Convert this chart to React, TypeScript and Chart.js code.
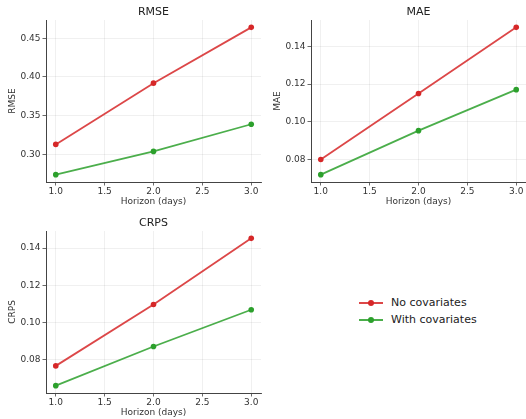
import React, { useEffect, useRef } from "react";
import { Chart, registerables } from "chart.js";

Chart.register(...registerables);

const horizons = [1, 2, 3];
const xTicks = [1.0, 1.5, 2.0, 2.5, 3.0];

const rmseNoCov = [0.313, 0.392, 0.464];
const rmseWithCov = [0.274, 0.304, 0.339];
const rmseTicks = [0.3, 0.35, 0.4, 0.45];

const maeNoCov = [0.08, 0.115, 0.15];
const maeWithCov = [0.072, 0.0953, 0.117];
const maeTicks = [0.08, 0.1, 0.12, 0.14];

const crpsNoCov = [0.0768, 0.1097, 0.1452];
const crpsWithCov = [0.0662, 0.0872, 0.1069];
const crpsTicks = [0.08, 0.1, 0.12, 0.14];

const seriesNames = ["No covariates", "With covariates"];
const lineColors = ["rgba(214,39,40,0.85)", "rgba(44,160,44,0.85)"];
const markerColors = ["#d62728", "#2ca02c"];

const FONT = "'DejaVu Sans', sans-serif";
const CANVAS_W = 265;
const CANVAS_H = 210;
const AREA_BOTTOM = 182;

function makeChart(
  canvas: HTMLCanvasElement,
  title: string,
  noCov: number[],
  withCov: number[],
  yTicks: number[]
) {
  const all = [...noCov, ...withCov];
  const lo = Math.min(...all);
  const hi = Math.max(...all);
  const m = (hi - lo) * 0.05;
  const xm = (horizons[horizons.length - 1] - horizons[0]) * 0.05;
  const series = [noCov, withCov];
  return new Chart(canvas, {
    type: "line",
    data: {
      datasets: series.map((vals, i) => ({
        label: seriesNames[i],
        data: horizons.map((h, j) => ({ x: h, y: vals[j] })),
        borderColor: lineColors[i],
        borderWidth: 1.8,
        pointRadius: 2.8,
        pointBackgroundColor: markerColors[i],
        pointBorderColor: markerColors[i],
        pointBorderWidth: 0,
        tension: 0,
      })),
    },
    options: {
      animation: false,
      responsive: false,
      maintainAspectRatio: false,
      layout: { padding: { left: 0, right: 2, top: 0, bottom: 0 } },
      plugins: {
        legend: { display: false },
        tooltip: { enabled: false },
        title: {
          display: true,
          text: title,
          fullSize: false,
          color: "#222",
          font: { family: FONT, size: 11, weight: "normal" },
          padding: { top: 5.7, bottom: 1.1 },
        },
      },
      scales: {
        x: {
          type: "linear",
          min: horizons[0] - xm,
          max: horizons[horizons.length - 1] + xm,
          afterBuildTicks: (s: any) => {
            s.ticks = xTicks.map((v) => ({ value: v }));
          },
          afterFit: (s: any) => {
            s.height = CANVAS_H - AREA_BOTTOM;
          },
          ticks: {
            callback: (v: any) => Number(v).toFixed(1),
            color: "#333",
            font: { family: FONT, size: 9 },
            padding: 1,
            maxRotation: 0,
            autoSkip: false,
          },
          grid: {
            color: "rgba(0,0,0,0.08)",
            tickColor: "#444",
            tickLength: 3.5,
            lineWidth: 0.8,
          },
          border: { display: true, color: "#444", width: 1 },
          title: {
            display: true,
            text: "Horizon (days)",
            color: "#333",
            font: { family: FONT, size: 9 },
            padding: { top: 0, bottom: 2.6 },
          },
        },
        y: {
          type: "linear",
          min: lo - m,
          max: hi + m,
          afterBuildTicks: (s: any) => {
            s.ticks = yTicks.map((v) => ({ value: v }));
          },
          afterFit: (s: any) => {
            s.width = 46;
          },
          ticks: {
            callback: (v: any) => Number(v).toFixed(2),
            color: "#333",
            font: { family: FONT, size: 9 },
            padding: 2,
            autoSkip: false,
          },
          grid: {
            color: "rgba(0,0,0,0.08)",
            tickColor: "#444",
            tickLength: 3.5,
            lineWidth: 0.8,
          },
          border: { display: true, color: "#444", width: 1 },
          title: {
            display: true,
            text: title,
            color: "#333",
            font: { family: FONT, size: 9 },
            padding: { top: 7.6, bottom: 0 },
          },
        },
      },
    },
  } as any);
}

export default function App() {
  const r1 = useRef<HTMLCanvasElement>(null);
  const r2 = useRef<HTMLCanvasElement>(null);
  const r3 = useRef<HTMLCanvasElement>(null);

  useEffect(() => {
    const charts = [
      makeChart(r1.current!, "RMSE", rmseNoCov, rmseWithCov, rmseTicks),
      makeChart(r2.current!, "MAE", maeNoCov, maeWithCov, maeTicks),
      makeChart(r3.current!, "CRPS", crpsNoCov, crpsWithCov, crpsTicks),
    ];
    return () => charts.forEach((c) => c.destroy());
  }, []);

  const canvasStyle = (left: number, top: number): React.CSSProperties => ({
    position: "absolute",
    left,
    top,
    width: CANVAS_W,
    height: CANVAS_H,
  });

  return (
    <div
      style={{
        position: "fixed",
        left: 0,
        top: 0,
        width: 526,
        height: 419,
        overflow: "hidden",
        background: "#fff",
        fontFamily: FONT,
      }}
    >
      <canvas ref={r1} width={CANVAS_W} height={CANVAS_H} style={canvasStyle(0, 0)} />
      <canvas ref={r2} width={CANVAS_W} height={CANVAS_H} style={canvasStyle(265, 0)} />
      <canvas ref={r3} width={CANVAS_W} height={CANVAS_H} style={canvasStyle(0, 211)} />
      {seriesNames.map((name, i) => (
        <div
          key={name}
          style={{
            position: "absolute",
            left: 359,
            top: 296 + i * 17,
            height: 14,
            display: "flex",
            alignItems: "center",
            fontSize: 11,
            lineHeight: "14px",
            color: "#222",
            whiteSpace: "nowrap",
          }}
        >
          <div style={{ position: "relative", width: 24, height: 14, marginRight: 8 }}>
            <div
              style={{
                position: "absolute",
                left: 0,
                top: 6,
                width: 24,
                height: 2,
                background: lineColors[i],
              }}
            />
            <div
              style={{
                position: "absolute",
                left: 9,
                top: 4,
                width: 6,
                height: 6,
                borderRadius: "50%",
                background: markerColors[i],
              }}
            />
          </div>
          <span>{name}</span>
        </div>
      ))}
    </div>
  );
}
